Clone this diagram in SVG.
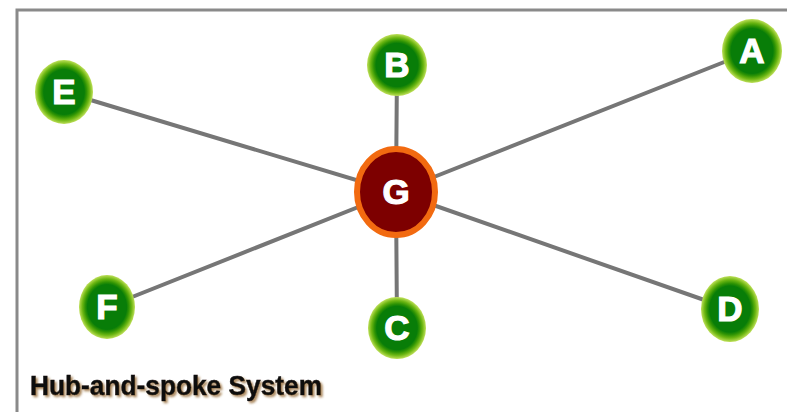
<svg xmlns="http://www.w3.org/2000/svg" width="787" height="412" viewBox="0 0 787 412">
  <defs>
    <radialGradient id="leaf" cx="50%" cy="50%" r="50%">
      <stop offset="0%" stop-color="#087d08"/>
      <stop offset="70%" stop-color="#087d08"/>
      <stop offset="78%" stop-color="#2f9404"/>
      <stop offset="88%" stop-color="#6cb612"/>
      <stop offset="100%" stop-color="#bfe05a"/>
    </radialGradient>
    <filter id="shadow" x="-10%" y="-20%" width="120%" height="150%">
      <feGaussianBlur in="SourceAlpha" stdDeviation="1.2"/>
      <feOffset dx="1.5" dy="2" result="b"/>
      <feFlood flood-color="#8a5a20" flood-opacity="0.7"/>
      <feComposite in2="b" operator="in"/>
      <feMerge><feMergeNode/><feMergeNode in="SourceGraphic"/></feMerge>
    </filter>
  </defs>
  <style>
    .spoke { stroke: #767676; stroke-width: 4; stroke-linecap: round; }
    .leaf { fill: url(#leaf); }
    .lbl { font-family: "Liberation Sans", Arial, sans-serif; font-weight: bold; font-size: 35px; fill: #ffffff; stroke: #ffffff; stroke-width: 1.2; text-anchor: middle; }
    .hub { fill: #7d0000; stroke: #f26a10; stroke-width: 6; }
    .title { font-family: "Liberation Sans", Arial, sans-serif; font-weight: bold; font-size: 28px; fill: #111111; stroke: #111111; stroke-width: 0.5; }
  </style>

  <rect x="0" y="0" width="787" height="412" fill="#ffffff"/>
  <!-- frame -->
  <path d="M17 412 V10 H787" fill="none" stroke="#8a8a8a" stroke-width="3"/>

  <g id="connectors">
    <line class="spoke" x1="396" y1="192" x2="64" y2="92"/>
    <line class="spoke" x1="396" y1="192" x2="397" y2="65"/>
    <line class="spoke" x1="396" y1="192" x2="752" y2="51"/>
    <line class="spoke" x1="396" y1="192" x2="107" y2="307"/>
    <line class="spoke" x1="396" y1="192" x2="397" y2="328"/>
    <line class="spoke" x1="396" y1="192" x2="730" y2="309"/>
  </g>

  <g id="node-E">
    <ellipse class="leaf" cx="64" cy="92" rx="29" ry="32"/>
    <text class="lbl" x="64" y="104">E</text>
  </g>
  <g id="node-B">
    <ellipse class="leaf" cx="397" cy="65" rx="30" ry="31"/>
    <text class="lbl" x="397" y="77">B</text>
  </g>
  <g id="node-A">
    <ellipse class="leaf" cx="752" cy="51" rx="30" ry="32"/>
    <text class="lbl" x="752" y="63">A</text>
  </g>
  <g id="node-F">
    <ellipse class="leaf" cx="107" cy="307" rx="28" ry="32"/>
    <text class="lbl" x="107" y="319">F</text>
  </g>
  <g id="node-C">
    <ellipse class="leaf" cx="397" cy="328" rx="29" ry="31"/>
    <text class="lbl" x="397" y="340">C</text>
  </g>
  <g id="node-D">
    <ellipse class="leaf" cx="730" cy="309" rx="29" ry="33"/>
    <text class="lbl" x="730" y="321">D</text>
  </g>
  <g id="node-G">
    <ellipse class="hub" cx="396" cy="192" rx="39" ry="43"/>
    <text class="lbl" x="396" y="204">G</text>
  </g>

  <text class="title" x="30" y="395" textLength="292" lengthAdjust="spacingAndGlyphs" filter="url(#shadow)">Hub-and-spoke System</text>
</svg>
